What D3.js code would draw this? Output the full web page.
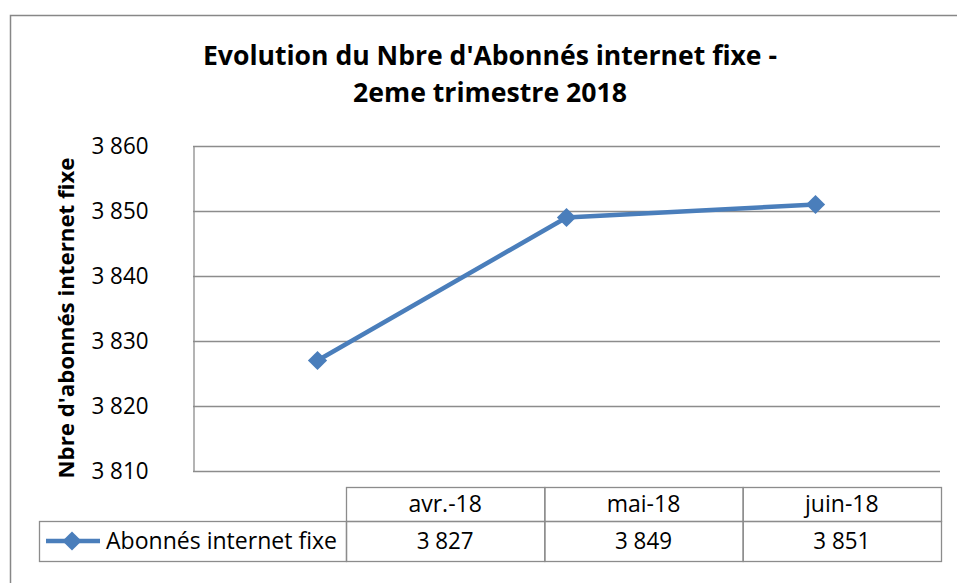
<!DOCTYPE html>
<html>
<head>
<meta charset="utf-8">
<script src="https://cdn.jsdelivr.net/npm/d3@7"></script>
<style>
  body { margin: 0; background: #fff; }
  svg { display: block; }
</style>
</head>
<body>
<div id="chart"></div>
<script>
// chart data
var months = ["avr.-18", "mai-18", "juin-18"];
var abonnes = [3827, 3849, 3851];
var seriesName = "Abonnés internet fixe";
var yTicks = [3810, 3820, 3830, 3840, 3850, 3860];
var titleLines = ["Evolution du Nbre d'Abonnés internet fixe -", "2eme trimestre 2018"];
var yTitle = "Nbre d'abonnés internet fixe";

var width = 957, height = 583;
var blue = "#4a7ebb", grey = "#8c8c8c";
var font = "'Open Sans', sans-serif";

var svg = d3.select("#chart").append("svg")
    .attr("width", width)
    .attr("height", height);

// stretch or squeeze a text to the width it has in the original (Calibri)
function fit(sel, w) {
  sel.attr("textLength", w).attr("lengthAdjust", "spacingAndGlyphs");
}

function spaced(d) { return d3.format(",")(d).replace(",", " "); }

// outer frame
svg.append("rect")
    .attr("x", 10.5).attr("y", 15.5)
    .attr("width", 1000).attr("height", 700)
    .attr("fill", "none")
    .attr("stroke", "#878787")
    .attr("stroke-width", 1.5);

// title
var title = svg.append("g").attr("font-family", font).attr("font-weight", "bold")
    .attr("font-size", 26).attr("text-anchor", "middle").attr("fill", "#000");
title.append("text").attr("x", 490).attr("y", 65).text(titleLines[0]).call(fit, 574);
title.append("text").attr("x", 490).attr("y", 102).text(titleLines[1]).call(fit, 274);

// scales
var x = d3.scalePoint().domain(months).range([193, 940]).padding(0.5);
var y = d3.scaleLinear().domain([3810, 3860]).range([471, 146]);

// gridlines
svg.append("g").selectAll("line")
    .data(yTicks)
    .enter()
    .append("line")
    .attr("x1", 193).attr("x2", 940)
    .attr("y1", function(d) { return Math.round(y(d)) + 0.5; })
    .attr("y2", function(d) { return Math.round(y(d)) + 0.5; })
    .attr("stroke", grey)
    .attr("stroke-width", 1.3);

// y axis
var yAxis = svg.append("g")
    .attr("transform", "translate(193.5,0)")
    .call(d3.axisLeft(y).tickValues(yTicks).tickSize(0).tickPadding(45).tickFormat(spaced));
yAxis.select(".domain").attr("stroke", grey).attr("stroke-width", 1.3);
yAxis.selectAll("text").attr("font-family", font).attr("font-size", 23).attr("fill", "#000")
    .call(fit, 57);

// y axis title
svg.append("text")
    .attr("transform", "translate(74,318) rotate(-90)")
    .attr("text-anchor", "middle")
    .attr("font-family", font)
    .attr("font-weight", "bold")
    .attr("font-size", 22)
    .text(yTitle)
    .call(fit, 321);

// line
var line = d3.line()
    .x(function(d, i) { return x(months[i]); })
    .y(function(d) { return y(d); });

svg.append("path")
    .datum(abonnes)
    .attr("d", line)
    .attr("fill", "none")
    .attr("stroke", blue)
    .attr("stroke-width", 4.5);

var diamond = d3.symbol().type(d3.symbolSquare).size(185);

svg.append("g").selectAll("path")
    .data(abonnes)
    .enter()
    .append("path")
    .attr("d", diamond)
    .attr("transform", function(d, i) { return "translate(" + x(months[i]) + "," + y(d) + ") rotate(45)"; })
    .attr("fill", blue);

// data table
var col = d3.scaleBand().domain(months).range([346, 941]);
var rowTop = 487.5, rowMid = 521.5, rowBot = 561.5;
var table = svg.append("g").attr("stroke", grey).attr("stroke-width", 1.3).attr("fill", "none");

table.selectAll("rect.head")
    .data(months)
    .enter()
    .append("rect")
    .attr("x", function(d) { return col(d) + 0.5; })
    .attr("y", rowTop)
    .attr("width", col.bandwidth())
    .attr("height", rowMid - rowTop);

table.selectAll("rect.val")
    .data(months)
    .enter()
    .append("rect")
    .attr("x", function(d) { return col(d) + 0.5; })
    .attr("y", rowMid)
    .attr("width", col.bandwidth())
    .attr("height", rowBot - rowMid);

table.append("rect")
    .attr("x", 39.5).attr("y", rowMid)
    .attr("width", 346 - 39).attr("height", rowBot - rowMid);

var tableText = svg.append("g").attr("font-family", font).attr("font-size", 23)
    .attr("text-anchor", "middle").attr("fill", "#000");

tableText.selectAll("text.head")
    .data(months)
    .enter()
    .append("text")
    .attr("x", function(d) { return col(d) + col.bandwidth() / 2; })
    .attr("y", 512)
    .text(function(d) { return d; });

tableText.selectAll("text.val")
    .data(abonnes)
    .enter()
    .append("text")
    .attr("x", function(d, i) { return col(months[i]) + col.bandwidth() / 2; })
    .attr("y", 549)
    .text(spaced)
    .call(fit, 57);

// legend key inside the table
svg.append("line")
    .attr("x1", 46).attr("x2", 100)
    .attr("y1", 541).attr("y2", 541)
    .attr("stroke", blue).attr("stroke-width", 4.5);
svg.append("path")
    .attr("d", diamond)
    .attr("transform", "translate(72,541) rotate(45)")
    .attr("fill", blue);
svg.append("text")
    .attr("x", 106).attr("y", 549)
    .attr("font-family", font).attr("font-size", 23)
    .text(seriesName)
    .call(fit, 231);
</script>
</body>
</html>
